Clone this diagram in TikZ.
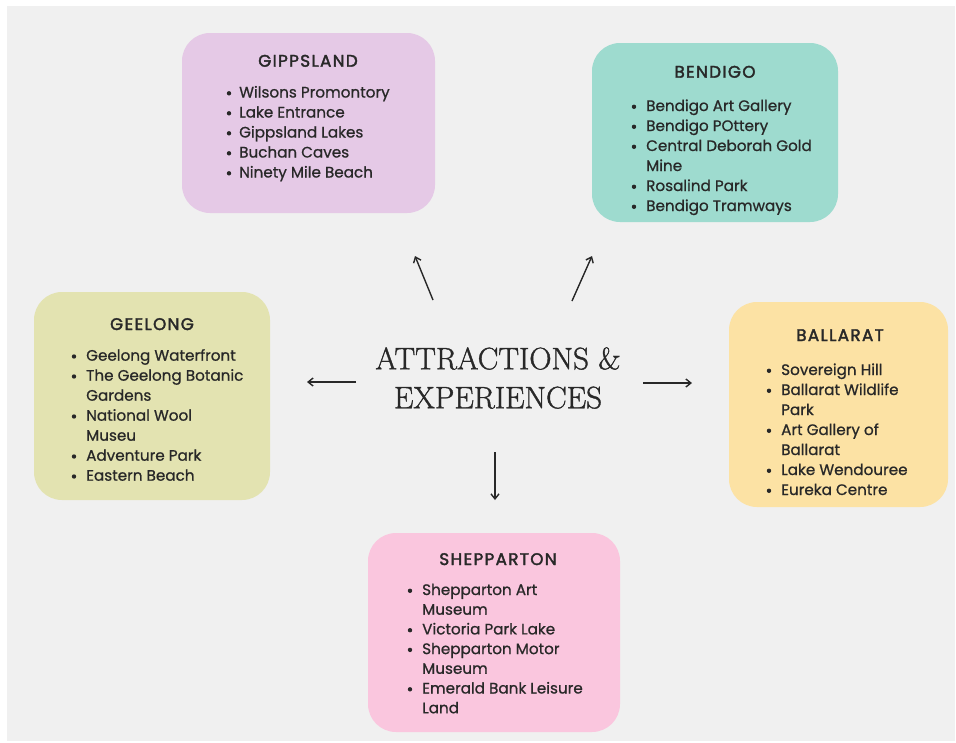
\documentclass[tikz,border=0pt]{standalone}
\usepackage{fontspec}
\newfontfamily\boxfont{Poppins}[FakeBold=0.8]
\newfontfamily\boxtitlefont{Poppins}[FakeBold=2.2, LetterSpace=8]
\newfontfamily\centrefont{Latin Modern Roman}[FakeBold=1.2]
\usetikzlibrary{arrows.meta}
\definecolor{bgc}{RGB}{240,240,240}
\definecolor{gippsc}{RGB}{229,201,230}
\definecolor{bendc}{RGB}{158,219,207}
\definecolor{geelc}{RGB}{227,227,177}
\definecolor{ballc}{RGB}{252,226,164}
\definecolor{sheppc}{RGB}{250,198,222}
\definecolor{ink}{RGB}{40,40,40}
\tikzset{
  regbox/.style={draw=none, rounded corners=28pt, inner sep=0pt},
  titletext/.style={font=\boxtitlefont\fontsize{16.8}{19}\selectfont, text=ink, inner sep=0pt},
  itemtext/.style={font=\boxfont\fontsize{15.2}{20}\selectfont, text=ink, inner sep=0pt},
  bul/.style={circle, fill=ink, inner sep=0pt, minimum size=4.4pt},
  arr/.style={draw=ink, line width=1.4pt, -{Straight Barb[length=5pt,width=8pt]}},
}
\newcommand\drawlist[6]{%
  \foreach \lk/\lb/\lt [count=\li] in {#6} {
    \node[itemtext, anchor=base west] (#1-\li) at (#3, {#4+#5*\lk}) {\lt};
    \ifnum\lb=1 \node[bul] (#1-b\li) at (#2, {#4+#5*\lk-4.2}) {};\fi
  }%
}
\begin{document}
\begin{tikzpicture}[x=1pt,y=-1pt]
\useasboundingbox (0,0) rectangle (956,742);
\fill[white] (0,0) rectangle (956,742);
\fill[bgc] (7,6) rectangle (955,741);

% boxes
\node[regbox, fill=gippsc, minimum width=253pt, minimum height=180pt] (gipps) at (308.5,123) {};
\node[regbox, fill=bendc, minimum width=246pt, minimum height=179pt] (bend) at (715,132.5) {};
\node[regbox, fill=geelc, minimum width=236pt, minimum height=208pt] (geel) at (152,396) {};
\node[regbox, fill=ballc, minimum width=219pt, minimum height=205pt] (ball) at (838.5,404.5) {};
\node[regbox, fill=sheppc, minimum width=252pt, minimum height=199pt] (shepp) at (494,632.5) {};

% titles
\node[titletext, anchor=base] (gippst) at (308,66.7) {GIPPSLAND};
\node[titletext, anchor=base] (bendt) at (715,77.7) {BENDIGO};
\node[titletext, anchor=base] (geelt) at (152,330) {GEELONG};
\node[titletext, anchor=base] (ballt) at (840,341) {BALLARAT};
\node[titletext, anchor=base] (seppt) at (498,565) {SHEPPARTON};

% lists
\drawlist{gl}{229}{239}{97.5}{20}{0/1/Wilsons Promontory, 1/1/Lake Entrance, 2/1/Gippsland Lakes, 3/1/Buchan Caves, 4/1/Ninety Mile Beach}
\drawlist{bl}{634}{646}{111}{20}{0/1/Bendigo Art Gallery, 1/1/Bendigo POttery, 2/1/Central Deborah Gold, 3/0/Mine, 4/1/Rosalind Park, 5/1/Bendigo Tramways}
\drawlist{el}{74}{86}{360.7}{20}{0/1/Geelong Waterfront, 1/1/The Geelong Botanic, 2/0/Gardens, 3/1/National Wool, 4/0/Museu, 5/1/Adventure Park, 6/1/Eastern Beach}
\drawlist{al}{769}{781}{375}{20}{0/1/Sovereign Hill, 1/1/Ballarat Wildlife, 2/0/Park, 3/1/Art Gallery of, 4/0/Ballarat, 5/1/Lake Wendouree, 6/1/Eureka Centre}
\drawlist{sl}{410}{422}{595}{19.7}{0/1/Shepparton Art, 1/0/Museum, 2/1/Victoria Park Lake, 3/1/Shepparton Motor, 4/0/Museum, 5/1/Emerald Bank Leisure, 6/0/Land}

% centre title
\node[text=ink, inner sep=0pt, align=center, font=\centrefont\fontsize{31}{39}\selectfont] (centre) at (498,378) {ATTRACTIONS \&\\EXPERIENCES};

% arrow ends
\coordinate (a1s) at (433,300); \coordinate (a1e) at (415,256);
\coordinate (a2s) at (572,301); \coordinate (a2e) at (592,256);
\coordinate (a3s) at (356,382); \coordinate (a3e) at (307,382);
\coordinate (a4s) at (643,383); \coordinate (a4e) at (692,383);
\coordinate (a5s) at (495,452); \coordinate (a5e) at (495,500);
\draw[arr] (a1s) -- (a1e);
\draw[arr] (a2s) -- (a2e);
\draw[arr] (a3s) -- (a3e);
\draw[arr] (a4s) -- (a4e);
\draw[arr] (a5s) -- (a5e);
\end{tikzpicture}
\end{document}
